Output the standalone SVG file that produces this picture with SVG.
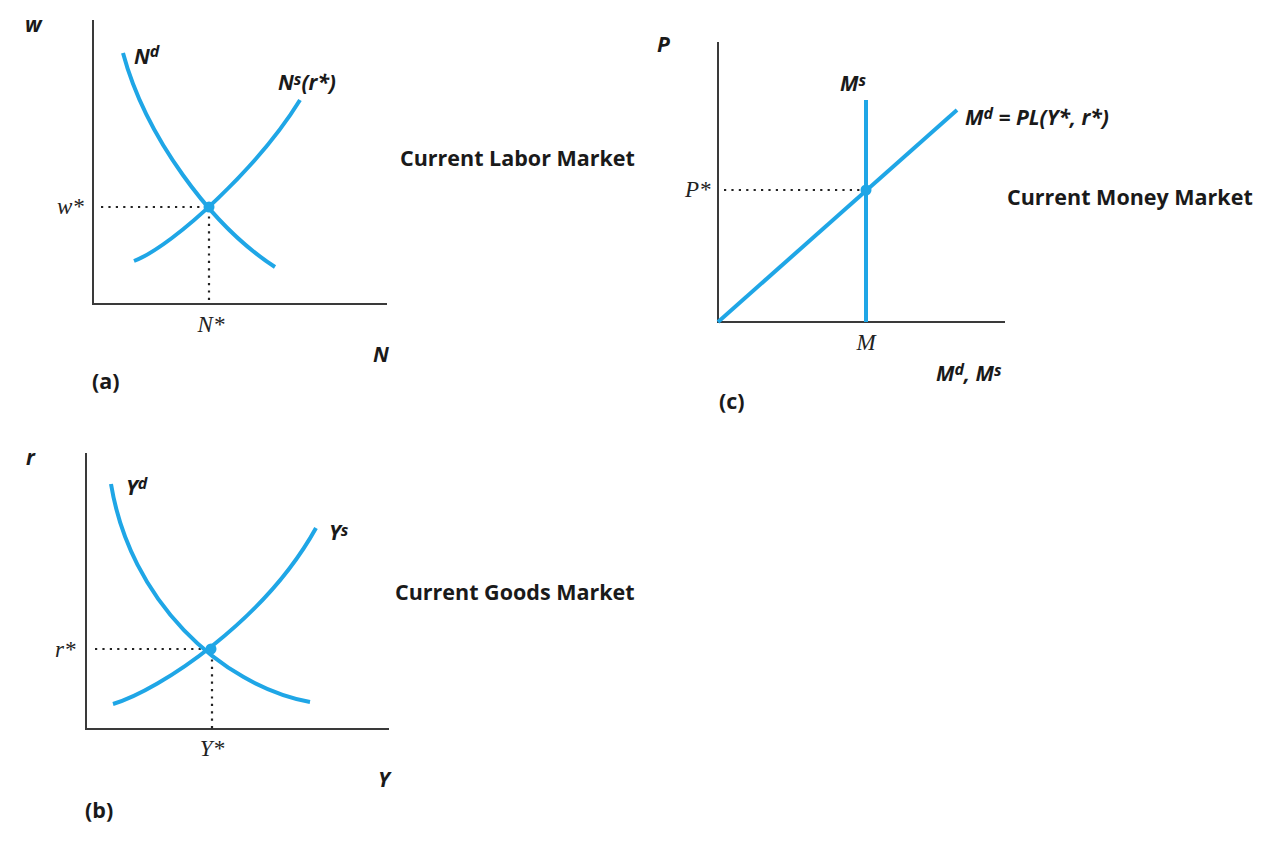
<svg xmlns="http://www.w3.org/2000/svg" width="1262" height="849" viewBox="0 0 1262 849">
<style>
.axis{fill:none;stroke:#3a3a3a;stroke-width:2}
.curve{fill:none;stroke:#1fa6e6;stroke-width:4;stroke-linecap:butt}
.dot{fill:#1fa6e6}
.dotted{fill:none;stroke:#222;stroke-width:2.2;stroke-dasharray:2.2 5.2}
.var{font-family:"Open Sans","Liberation Sans",sans-serif;font-weight:700;font-style:italic;font-size:21px;fill:#1a1a1a}
.val{font-family:"Liberation Serif",serif;font-style:italic;font-size:23px;fill:#222}
.title{font-family:"Open Sans","Liberation Sans",sans-serif;font-weight:700;font-size:21.5px;fill:#1a1a1a}
.sup{font-size:16px}
</style>
<rect width="1262" height="849" fill="#fff"/>

<g id="panel-a">
  <path class="axis" d="M93,20 V304 H387"/>
  <path class="dotted" d="M101,207 H207 M209,209 V304"/>
  <path id="Nd" class="curve" d="M123,53 C145,135 210,225 275,267"/>
  <path id="Ns" class="curve" d="M134,261 C175,245 260,165 300,100"/>
  <circle class="dot" cx="209" cy="207" r="5.5"/>
  <text class="var" x="25" y="32">w</text>
  <text class="var" x="134" y="64">N<tspan class="sup" dy="-7">d</tspan></text>
  <text class="var" x="278" y="90">N<tspan class="sup" dy="-5">s</tspan><tspan dy="5">(r*)</tspan></text>
  <text class="val" x="57" y="214">w*</text>
  <text class="val" x="211" y="332" text-anchor="middle">N*</text>
  <text class="var" x="373" y="362">N</text>
  <text class="title" x="92" y="389">(a)</text>
  <text class="title" x="400" y="166">Current Labor Market</text>
</g>

<g id="panel-c">
  <path class="axis" d="M718,42 V322 H1005"/>
  <path class="dotted" d="M724,190 H862"/>
  <path id="Ms" class="curve" d="M866,100 V322"/>
  <path id="Md" class="curve" d="M718,322 L957,110"/>
  <circle class="dot" cx="866" cy="190" r="5.5"/>
  <text class="var" x="657" y="52">P</text>
  <text class="var" x="840" y="91">M<tspan class="sup" dy="-5">s</tspan></text>
  <text class="var" x="965" y="125">M<tspan class="sup" dy="-6">d</tspan><tspan dy="6"> = PL(Y*, r*)</tspan></text>
  <text class="val" x="685" y="197">P*</text>
  <text class="val" x="866" y="350" text-anchor="middle">M</text>
  <text class="var" x="936" y="381">M<tspan class="sup" dy="-6">d</tspan><tspan dy="6">, M</tspan><tspan class="sup" dy="-5">s</tspan></text>
  <text class="title" x="719" y="409">(c)</text>
  <text class="title" x="1007" y="205">Current Money Market</text>
</g>

<g id="panel-b">
  <path class="axis" d="M86,453 V729 H389"/>
  <path class="dotted" d="M95,649 H208 M212,652 V729"/>
  <path id="Yd" class="curve" d="M111,484 C130,600 220,685 310,702"/>
  <path id="Ys" class="curve" d="M113,704 C160,690 265,620 316,528"/>
  <circle class="dot" cx="211" cy="649" r="5.5"/>
  <text class="var" x="26" y="465">r</text>
  <text class="var" x="126" y="495">Y<tspan class="sup" dy="-6">d</tspan></text>
  <text class="var" x="329" y="540">Y<tspan class="sup" dy="-4">s</tspan></text>
  <text class="val" x="55" y="657">r*</text>
  <text class="val" x="212" y="756" text-anchor="middle">Y*</text>
  <text class="var" x="378" y="787">Y</text>
  <text class="title" x="85" y="818">(b)</text>
  <text class="title" x="395" y="600">Current Goods Market</text>
</g>
</svg>
